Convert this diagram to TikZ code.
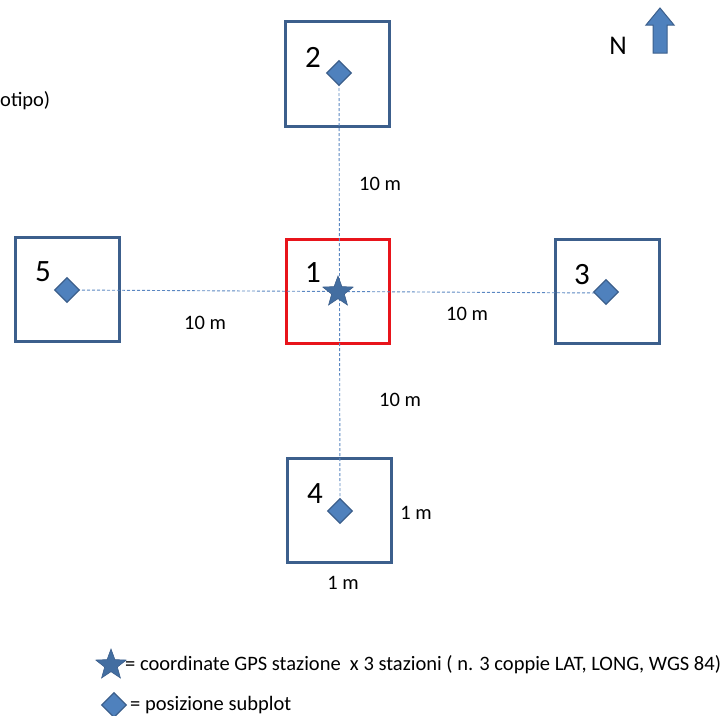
\documentclass[tikz,border=0pt]{standalone}
\usepackage{fontspec}
\setmainfont{Carlito}
\usetikzlibrary{shapes.geometric}
\definecolor{bframe}{HTML}{3C5F8C}
\definecolor{bfill}{HTML}{4F81BD}
\definecolor{bdash}{HTML}{5B87C2}
\definecolor{rframe}{HTML}{E8141B}
\begin{document}
\begin{tikzpicture}[x=1pt,y=-1pt,
  plotbox/.style={draw=bframe,line width=3pt},
  centrebox/.style={draw=rframe,line width=3pt},
  subplot/.style={diamond,fill=bfill,draw=bframe,line width=1.2pt,minimum width=25pt,minimum height=25pt,inner sep=0pt},
  gpsstar/.style={star,star points=5,star point ratio=2.4,fill=bfill!85!black,draw=bframe,line width=0.6pt,minimum size=32pt,inner sep=0pt},
  link/.style={draw=bdash,line width=0.9pt,dash pattern=on 3pt off 2pt},
  num/.style={font=\fontsize{31}{31}\selectfont,inner sep=0pt},
  dist/.style={font=\fontsize{20.5}{20.5}\selectfont,inner sep=0pt},
  legend/.style={font=\fontsize{20.5}{20.5}\selectfont,inner sep=0pt,anchor=west}]
\useasboundingbox (0,0) rectangle (725,715);
% boxes
\draw[plotbox] (285,21) rectangle (389,126);
\draw[centrebox] (286,239) rectangle (389,343);
\draw[plotbox] (15,237) rectangle (119,341);
\draw[plotbox] (555,239) rectangle (659,343);
\draw[plotbox] (287,458) rectangle (391,562);
% dashed links
\coordinate (t2) at (339,78);
\coordinate (t4) at (340,505);
\coordinate (t5) at (72,290);
\coordinate (t3) at (600,293);
\draw[link] (t2) -- (t4);
\draw[link] (t5) -- (t3);
% centres
\node[subplot] (d2) at (339,73) {};
\node[gpsstar] (s1) at (338,292) {};
\node[subplot] (d5) at (67,290) {};
\node[subplot] (d3) at (606,292) {};
\node[subplot] (d4) at (340,511) {};
% numbers
\node[num] (n2) at (313,57) {2};
\node[num] (n1) at (313,273) {1};
\node[num] (n5) at (43,272) {5};
\node[num] (n3) at (582,275) {3};
\node[num] (n4) at (315,494) {4};
% distances
\node[dist] (l1) at (380,184) {10 m};
\node[dist] (l2) at (205,323) {10 m};
\node[dist] (l3) at (467,314) {10 m};
\node[dist] (l4) at (400,400) {10 m};
\node[dist] (l5) at (416,513) {1 m};
\node[dist] (l6) at (343,583) {1 m};
% cut text
\node[dist,anchor=west] (cut) at (0,101) {otipo)};
% north
\node[font=\fontsize{27}{27}\selectfont,inner sep=0pt] (nn) at (618,46) {N};
\fill[bfill,draw=bframe,line width=1pt] (653,53) -- (653,25) -- (646,25) -- (660,8) -- (674,25) -- (667,25) -- (667,53) -- cycle;
% legend
\node[gpsstar] (ls) at (111,665) {};
\node[legend] (lt1) at (125,665) {= coordinate GPS stazione\ \ x 3 stazioni ( n. 3 coppie LAT, LONG, WGS 84)};
\node[subplot] (ld) at (114,705) {};
\node[legend] (lt2) at (130,705) {= posizione subplot};
\end{tikzpicture}
\end{document}
